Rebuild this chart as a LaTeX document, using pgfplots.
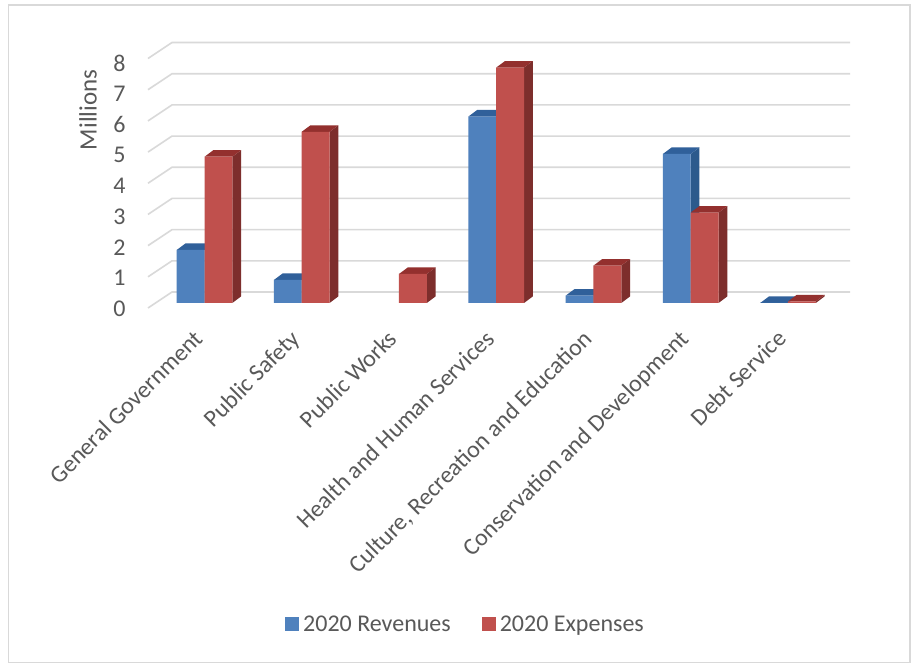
\documentclass[border=0pt]{standalone}
\usepackage{pgfplots}
\pgfplotsset{compat=1.18}
\usepackage{fontspec}
\setmainfont{Carlito}
\definecolor{revfront}{HTML}{4F81BD}
\definecolor{revside}{HTML}{2C5A8C}
\definecolor{revtop}{HTML}{30609A}
\definecolor{expfront}{HTML}{C0504D}
\definecolor{expside}{HTML}{7D2E2C}
\definecolor{exptop}{HTML}{93302E}
\definecolor{wallgrid}{HTML}{D9D9D9}
\definecolor{labeltext}{HTML}{595959}
\definecolor{framegray}{HTML}{D9D9D9}

% half a bar in category units and the oblique depth of a bar
\pgfmathsetmacro{\barw}{0.286}
\pgfmathsetmacro{\depthx}{0.09}
\pgfmathsetmacro{\depthy}{0.21}

% side and top faces of one bar: left edge, value, side colour, top colour
\newcommand{\barfaces}[4]{%
  \pgfmathsetmacro{\xr}{#1+\barw}%
  \pgfmathsetmacro{\xrd}{#1+\barw+\depthx}%
  \pgfmathsetmacro{\xld}{#1+\depthx}%
  \pgfmathsetmacro{\vd}{#2+\depthy}%
  \edef\facecmds{%
    \noexpand\addplot[fill=#3,draw=none,forget plot] coordinates {(\xr,0) (\xrd,\depthy) (\xrd,\vd) (\xr,#2)} --cycle;
    \noexpand\addplot[fill=#4,draw=none,forget plot] coordinates {(#1,#2) (\xld,\vd) (\xrd,\vd) (\xr,#2)} --cycle;
  }%
  \facecmds
}

\begin{document}
\begin{tikzpicture}[x=1pt,y=1pt]
\path[fill=white] (0,0) rectangle (912,664);
\begin{axis}[
  name=ax,
  at={(148pt,356pt)}, anchor=south west,
  scale only axis, width=702pt, height=266pt,
  clip=false,
  xmin=-0.581, xmax=6.638,
  ymin=-0.1604, ymax=8.37,
  axis line style={draw=none},
  tick style={draw=none},
  xtick={0,1,2,3,4,5,6},
  xticklabels={General Government,Public Safety,Public Works,Health and Human Services,{Culture, Recreation and Education},Conservation and Development,Debt Service},
  xticklabel style={rotate=45, anchor=north east, inner sep=0pt, yshift=-5.7pt, xshift=-23pt, text=labeltext, font=\fontsize{24}{28}\selectfont},
  ytick={-0.160,0.826,1.812,2.798,3.785,4.771,5.757,6.743,7.729},
  yticklabels={0,1,2,3,4,5,6,7,8},
  yticklabel style={xshift=-19pt, yshift=-1pt, text=labeltext, font=\fontsize{24}{28}\selectfont},
  /pgf/number format/assume math mode=true,
  ylabel={Millions},
  ylabel style={at={(axis description cs:-0.0855,0.745)}, anchor=center, text=labeltext, font=\fontsize{25}{28}\selectfont},
  legend style={at={(axis description cs:0.4537,-1.188)}, anchor=center, draw=none, fill=none,
    legend columns=2, inner sep=0pt,
    nodes={text=labeltext, font=\fontsize{24}{28}\selectfont, inner xsep=4pt},
    /tikz/every even column/.append style={column sep=27pt}},
  squarekey/.style={legend image code/.code={\path[##1] (0pt,-7pt) rectangle (14pt,7pt);}},
]
% wall grid: oblique stub on the left wall, then along the back wall
\addplot[wallgrid,line width=1.6pt,forget plot] coordinates {(-0.581,-0.16) (-0.334,0.353) (6.638,0.353)};
\addplot[wallgrid,line width=1.6pt,forget plot] coordinates {(-0.581,0.84) (-0.334,1.353) (6.638,1.353)};
\addplot[wallgrid,line width=1.6pt,forget plot] coordinates {(-0.581,1.84) (-0.334,2.353) (6.638,2.353)};
\addplot[wallgrid,line width=1.6pt,forget plot] coordinates {(-0.581,2.84) (-0.334,3.353) (6.638,3.353)};
\addplot[wallgrid,line width=1.6pt,forget plot] coordinates {(-0.581,3.84) (-0.334,4.353) (6.638,4.353)};
\addplot[wallgrid,line width=1.6pt,forget plot] coordinates {(-0.581,4.84) (-0.334,5.353) (6.638,5.353)};
\addplot[wallgrid,line width=1.6pt,forget plot] coordinates {(-0.581,5.84) (-0.334,6.353) (6.638,6.353)};
\addplot[wallgrid,line width=1.6pt,forget plot] coordinates {(-0.581,6.84) (-0.334,7.353) (6.638,7.353)};
\addplot[wallgrid,line width=1.6pt,forget plot] coordinates {(-0.581,7.84) (-0.334,8.353) (6.638,8.353)};

% revenue bars
\barfaces{-0.286}{1.70}{revside}{revtop}
\barfaces{0.714}{0.74}{revside}{revtop}
\barfaces{2.714}{5.98}{revside}{revtop}
\barfaces{3.714}{0.235}{revside}{revtop}
\barfaces{4.714}{4.78}{revside}{revtop}
\barfaces{5.714}{0.0}{revside}{revtop}
\addplot[ybar, bar width=27.8pt, bar shift=-13.9pt, fill=revfront, draw=none, squarekey]
  coordinates {(0,1.70) (1,0.74) (3,5.98) (4,0.235) (5,4.78) (6,0.0)};
\addlegendentry{2020 Revenues}

% expense bars
\barfaces{0}{4.69}{expside}{exptop}
\barfaces{1}{5.49}{expside}{exptop}
\barfaces{2}{0.93}{expside}{exptop}
\barfaces{3}{7.55}{expside}{exptop}
\barfaces{4}{1.20}{expside}{exptop}
\barfaces{5}{2.90}{expside}{exptop}
\barfaces{6}{0.05}{expside}{exptop}
\addplot[ybar, bar width=27.8pt, bar shift=13.9pt, fill=expfront, draw=none, squarekey]
  coordinates {(0,4.69) (1,5.49) (2,0.93) (3,7.55) (4,1.20) (5,2.90) (6,0.05)};
\addlegendentry{2020 Expenses}
\end{axis}
\draw[framegray,line width=1.5pt] (8.5,1.5) rectangle (910,659);
\end{tikzpicture}
\end{document}
